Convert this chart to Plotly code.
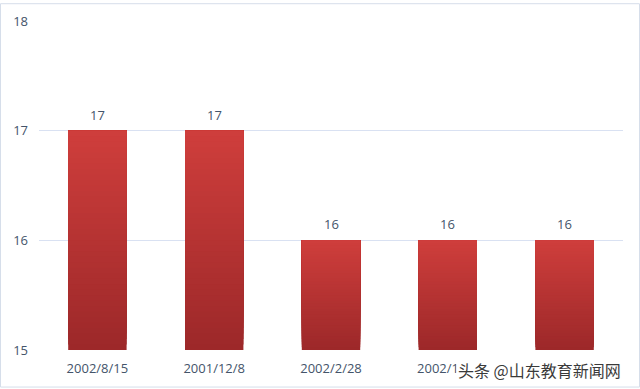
import plotly.graph_objects as go

categories = ["2002/8/15", "2001/12/8", "2002/2/28", "2002/1/13", "2002/3/10"]
values = [17, 17, 16, 16, 16]
y_min, y_max = 15, 18
y_ticks = [15, 16, 17, 18]

W, H = 640, 389
ml, mr, mt, mb = 39, 17, 18, 38

top_rgb = (207, 62, 60)
bot_rgb = (156, 40, 41)
N = 40

fig = go.Figure()
for i in range(N):
    f = (i + 0.5) / N
    c = tuple(round(bot_rgb[k] + (top_rgb[k] - bot_rgb[k]) * f) for k in range(3))
    bases = [y_min + (v - y_min) * i / N for v in values]
    fig.add_trace(go.Bar(
        x=categories,
        y=[v - b for v, b in zip(values, bases)],
        base=bases,
        marker=dict(color="rgb(%d,%d,%d)" % c, line=dict(width=0)),
        width=0.5, hoverinfo="skip", showlegend=False,
    ))

for cat, v in zip(categories, values):
    fig.add_annotation(x=cat, y=v, text=str(v), showarrow=False, yshift=16,
                       font=dict(family="Open Sans", size=13, color="#44546A"))

pw = W - ml - mr
ph = H - mt - mb
fig.add_shape(type="rect", xref="paper", yref="paper",
              x0=(-ml + 0.5) / pw, x1=(pw + mr - 0.5) / pw,
              y0=(-mb + 0.5) / ph, y1=(ph + mt - 0.5) / ph,
              line=dict(color="#D6DEEA", width=1), layer="below")

fig.add_annotation(text="头条 @山东教育新闻网", xref="paper", yref="paper",
                   x=1.0, y=(-mb + 18) / ph, xanchor="right", yanchor="middle",
                   showarrow=False, bgcolor="white", borderpad=1,
                   font=dict(family="Noto Sans CJK SC", size=16, color="#3a3a3a"))

fig.update_layout(
    width=W, height=H,
    margin=dict(l=ml, r=mr, t=mt, b=mb),
    barmode="overlay",
    plot_bgcolor="white", paper_bgcolor="white",
    font=dict(family="Open Sans", size=13, color="#44546A"),
    xaxis=dict(showgrid=False, showline=False, ticks="", tickfont=dict(size=13, color="#44546A"),
               ticklabelstandoff=9),
    yaxis=dict(range=[y_min, y_max], tickvals=y_ticks, showgrid=True, gridcolor="#D9E1F2",
               gridwidth=1, zeroline=False, showline=False, ticks="",
               tickfont=dict(size=13, color="#44546A"), ticklabelstandoff=10),
)

fig.write_html("out.html")
